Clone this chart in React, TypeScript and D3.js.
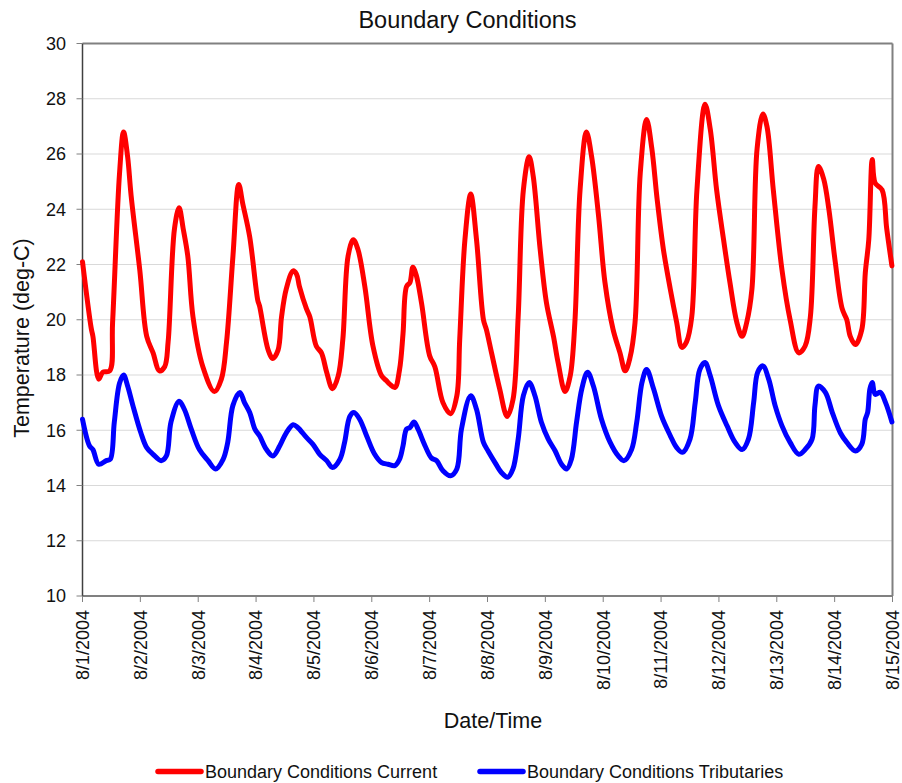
import React from "react";
import * as d3 from "d3";

// Day offsets from 8/1/2004 00:00 and temperatures (deg-C)
const currentDays = [0, 0.15, 0.18, 0.28, 0.35, 0.47, 0.52, 0.64, 0.71, 0.78, 0.84, 0.99, 1.11, 1.22, 1.33, 1.42, 1.48, 1.59, 1.67, 1.74, 1.82, 1.91, 2.08, 2.28, 2.4, 2.49, 2.6, 2.7, 2.77, 2.89, 3.03, 3.06, 3.21, 3.29, 3.38, 3.44, 3.52, 3.64, 3.7, 3.75, 3.87, 3.93, 4.04, 4.13, 4.22, 4.32, 4.42, 4.5, 4.59, 4.68, 4.76, 4.88, 5.02, 5.17, 5.25, 5.31, 5.4, 5.48, 5.54, 5.6, 5.66, 5.71, 5.77, 5.86, 6.0, 6.09, 6.23, 6.36, 6.47, 6.52, 6.61, 6.71, 6.81, 6.93, 6.98, 7.07, 7.21, 7.34, 7.44, 7.53, 7.62, 7.72, 7.79, 7.91, 8.02, 8.14, 8.22, 8.34, 8.43, 8.51, 8.6, 8.71, 8.8, 8.92, 9.03, 9.17, 9.29, 9.38, 9.46, 9.55, 9.64, 9.75, 9.84, 9.93, 10.04, 10.16, 10.27, 10.36, 10.44, 10.53, 10.62, 10.76, 10.85, 10.96, 11.08, 11.19, 11.31, 11.4, 11.48, 11.57, 11.66, 11.76, 11.83, 11.94, 12.09, 12.23, 12.38, 12.49, 12.58, 12.66, 12.72, 12.81, 12.9, 13.01, 13.13, 13.21, 13.27, 13.36, 13.47, 13.53, 13.59, 13.65, 13.7, 13.82, 13.9, 13.99];
const currentTemps = [22.1, 19.7, 19.4, 17.85, 18.1, 18.15, 19.9, 25.3, 26.8, 25.9, 24.5, 21.8, 19.4, 18.8, 18.15, 18.3, 19.2, 23.3, 24.05, 23.3, 22.3, 20.1, 18.3, 17.4, 17.85, 19.2, 22.3, 24.9, 24.2, 23.0, 20.7, 20.5, 18.9, 18.6, 18.9, 20.1, 21.1, 21.77, 21.65, 21.2, 20.4, 20.1, 19.05, 18.8, 18.1, 17.5, 17.97, 19.3, 22.3, 22.9, 22.55, 21.2, 19.05, 17.97, 17.8, 17.67, 17.55, 18.2, 19.5, 21.2, 21.35, 21.9, 21.6, 20.6, 18.7, 18.3, 17.0, 16.6, 17.25, 19.3, 22.9, 24.55, 22.9, 20.0, 19.65, 18.8, 17.5, 16.5, 17.1, 20.1, 24.7, 25.9, 25.2, 22.55, 20.6, 19.4, 18.45, 17.4, 17.97, 19.9, 24.7, 26.8, 25.9, 23.75, 21.35, 19.65, 18.8, 18.15, 18.6, 19.9, 25.3, 27.25, 26.2, 24.4, 22.55, 21.1, 19.9, 19.0, 19.2, 20.1, 24.7, 27.8, 26.9, 24.7, 22.9, 21.35, 19.9, 19.4, 19.9, 21.1, 26.2, 27.45, 27.0, 24.7, 21.8, 20.0, 18.8, 19.05, 20.1, 24.1, 25.55, 25.1, 24.0, 22.1, 20.4, 20.0, 19.4, 19.1, 19.65, 21.7, 22.9, 25.8, 24.95, 24.7, 23.3, 21.95];

const tribDays = [0, 0.12, 0.18, 0.28, 0.41, 0.48, 0.55, 0.64, 0.71, 0.78, 0.87, 1.01, 1.11, 1.22, 1.36, 1.45, 1.53, 1.67, 1.76, 1.88, 2.02, 2.17, 2.3, 2.43, 2.51, 2.6, 2.72, 2.8, 2.89, 2.98, 3.06, 3.18, 3.29, 3.41, 3.52, 3.64, 3.72, 3.87, 3.98, 4.1, 4.22, 4.32, 4.45, 4.53, 4.62, 4.69, 4.79, 4.91, 5.05, 5.17, 5.28, 5.4, 5.48, 5.54, 5.6, 5.66, 5.73, 5.8, 5.92, 6.03, 6.12, 6.23, 6.36, 6.47, 6.55, 6.71, 6.81, 6.93, 7.01, 7.13, 7.24, 7.35, 7.44, 7.53, 7.62, 7.72, 7.82, 7.93, 8.05, 8.17, 8.28, 8.37, 8.45, 8.54, 8.63, 8.73, 8.83, 8.97, 9.12, 9.26, 9.36, 9.49, 9.58, 9.67, 9.75, 9.87, 10.01, 10.16, 10.27, 10.37, 10.5, 10.59, 10.67, 10.76, 10.85, 10.99, 11.14, 11.28, 11.4, 11.51, 11.6, 11.67, 11.76, 11.86, 11.97, 12.09, 12.23, 12.38, 12.49, 12.61, 12.66, 12.72, 12.84, 12.96, 13.1, 13.21, 13.36, 13.47, 13.53, 13.57, 13.61, 13.65, 13.7, 13.79, 13.88, 13.99];
const tribTemps = [16.4, 15.44, 15.3, 14.77, 14.9, 14.95, 16.3, 17.7, 18.0, 17.6, 16.9, 15.9, 15.37, 15.13, 14.9, 15.07, 16.3, 17.05, 16.76, 16.04, 15.3, 14.9, 14.6, 14.95, 15.56, 16.9, 17.37, 17.0, 16.64, 16.04, 15.8, 15.3, 15.07, 15.44, 15.9, 16.2, 16.1, 15.74, 15.5, 15.13, 14.9, 14.65, 14.95, 15.56, 16.5, 16.64, 16.4, 15.8, 15.13, 14.83, 14.77, 14.72, 14.95, 15.44, 16.04, 16.1, 16.3, 16.04, 15.44, 15.0, 14.9, 14.53, 14.35, 14.6, 16.04, 17.25, 16.76, 15.56, 15.25, 14.83, 14.47, 14.3, 14.6, 15.68, 17.25, 17.73, 17.25, 16.3, 15.68, 15.25, 14.77, 14.6, 14.95, 16.3, 17.5, 18.1, 17.6, 16.4, 15.56, 15.07, 14.9, 15.3, 16.3, 17.73, 18.2, 17.5, 16.5, 15.8, 15.37, 15.2, 15.68, 17.0, 18.2, 18.45, 17.97, 16.9, 16.16, 15.56, 15.3, 15.68, 17.0, 18.1, 18.33, 17.85, 16.9, 16.16, 15.56, 15.13, 15.3, 15.68, 16.9, 17.6, 17.37, 16.64, 15.9, 15.56, 15.25, 15.5, 16.4, 16.64, 17.5, 17.73, 17.3, 17.37, 17.0, 16.3];

const yTicks = [10, 12, 14, 16, 18, 20, 22, 24, 26, 28, 30];
const seriesNames = ["Boundary Conditions Current", "Boundary Conditions Tributaries"];
const seriesColors = ["#ff0000", "#0000ff"];

const FONT = "'Liberation Sans', Arial, sans-serif";
const W = 902;
const H = 783;
const M = { left: 82.5, right: 892.5, top: 43.5, bottom: 596 };

const start = new Date(2004, 7, 1);
const end = new Date(2004, 7, 15);
const toDate = (d: number) => new Date(start.getTime() + d * 86400000);

export default function App() {
  const x = d3.scaleTime().domain([start, end]).range([M.left, M.right]);
  const y = d3.scaleLinear().domain([10, 30]).range([M.bottom, M.top]);
  const xTicks = d3.timeDay.range(start, d3.timeDay.offset(end, 1));
  const fmt = d3.timeFormat("%-m/%-d/%Y");

  const line = d3
    .line<[number, number]>()
    .x((p) => x(toDate(p[0])))
    .y((p) => y(p[1]))
    .curve(d3.curveCatmullRom.alpha(0.5));

  const series = [
    currentDays.map((d, i) => [d, currentTemps[i]] as [number, number]),
    tribDays.map((d, i) => [d, tribTemps[i]] as [number, number]),
  ];

  const legendX = [156, 478];

  return (
    <svg width={W} height={H} style={{ position: "absolute", left: 0, top: 0, background: "#fff" }} fontFamily={FONT}>
      <rect x={0} y={0} width={W} height={H} fill="#fff" />
      <text x={467.5} y={28} textAnchor="middle" fontSize={23.5} fill="#111">
        Boundary Conditions
      </text>
      {/* gridlines */}
      {yTicks.map((t) => (
        <line key={"g" + t} x1={M.left} x2={M.right} y1={y(t)} y2={y(t)} stroke="#d9d9d9" strokeWidth={1} />
      ))}
      {/* border */}
      <line x1={M.left} x2={M.right} y1={M.top} y2={M.top} stroke="#808080" strokeWidth={2} />
      <line x1={M.right} x2={M.right} y1={M.top} y2={M.bottom} stroke="#808080" strokeWidth={2} />
      <line x1={M.left} x2={M.right} y1={M.bottom} y2={M.bottom} stroke="#808080" strokeWidth={2} />
      <line x1={M.left} x2={M.left} y1={M.top} y2={M.bottom} stroke="#404040" strokeWidth={1.5} />
      {/* y ticks */}
      {yTicks.map((t) => (
        <g key={"y" + t}>
          <line x1={M.left - 6} x2={M.left} y1={y(t)} y2={y(t)} stroke="#808080" strokeWidth={1} />
          <text x={66} y={y(t)} dy="0.35em" textAnchor="end" fontSize={18} fill="#111">
            {t}
          </text>
        </g>
      ))}
      {/* x ticks */}
      {xTicks.map((d) => (
        <g key={"x" + d.getTime()}>
          <line x1={x(d)} x2={x(d)} y1={M.bottom} y2={M.bottom + 6} stroke="#808080" strokeWidth={1} />
          <text
            transform={`translate(${x(d)},610) rotate(-90)`}
            dy="0.35em"
            textAnchor="end"
            fontSize={18}
            fill="#111"
          >
            {fmt(d)}
          </text>
        </g>
      ))}
      {/* series */}
      {series.map((s, i) => (
        <path
          key={"s" + i}
          d={line(s) || ""}
          fill="none"
          stroke={seriesColors[i]}
          strokeWidth={5}
          strokeLinejoin="round"
          strokeLinecap="round"
        />
      ))}
      {/* axis titles */}
      <text transform="translate(29,338) rotate(-90)" textAnchor="middle" fontSize={21.5} fill="#111">
        Temperature (deg-C)
      </text>
      <text x={493} y={728} textAnchor="middle" fontSize={21.5} fill="#111">
        Date/Time
      </text>
      {/* legend */}
      {seriesNames.map((n, i) => (
        <g key={"l" + i}>
          <line x1={legendX[i] + 2} x2={legendX[i] + 45} y1={771.5} y2={771.5} stroke={seriesColors[i]} strokeWidth={5.5} strokeLinecap="round" />
          <text x={legendX[i] + 49} y={778} fontSize={18} fill="#111">
            {n}
          </text>
        </g>
      ))}
    </svg>
  );
}
